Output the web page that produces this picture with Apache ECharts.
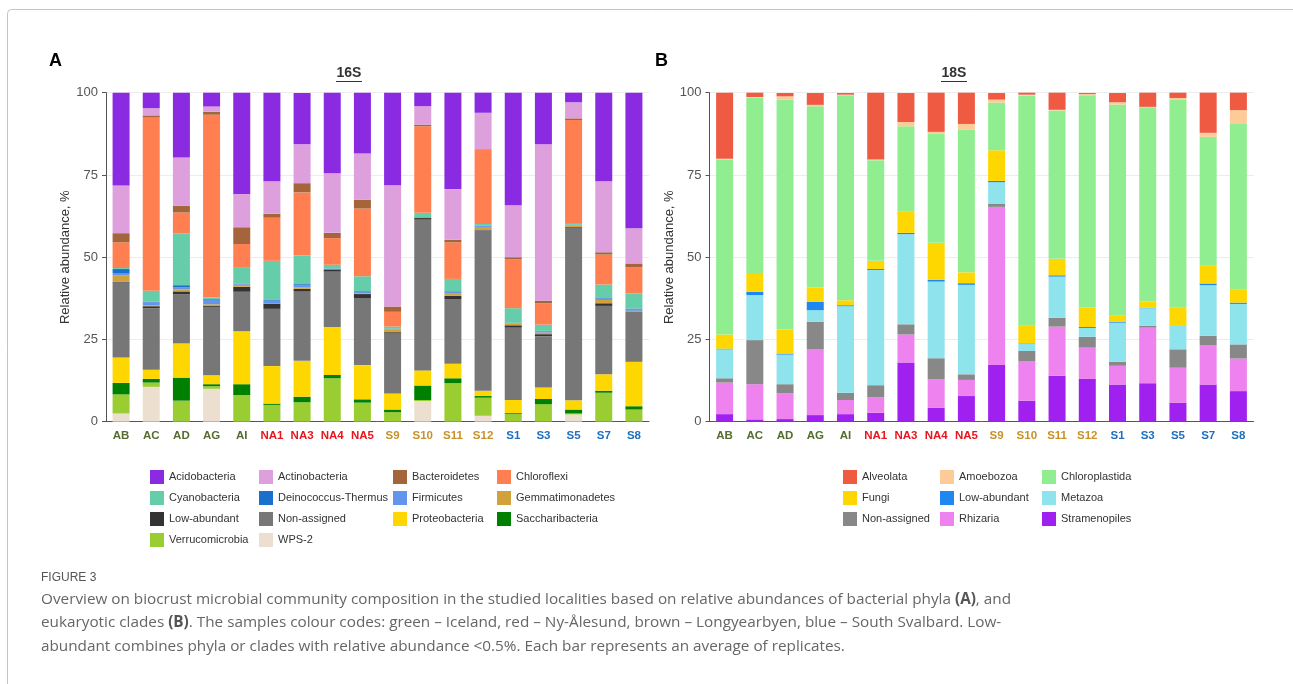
<!DOCTYPE html>
<html><head><meta charset="utf-8">
<script src="https://cdn.jsdelivr.net/npm/echarts@6/dist/echarts.min.js"></script>
<style>html,body{margin:0;padding:0;background:#fff}#c{width:1293px;height:684px}</style>
</head><body><div id="c"></div><script>
// ---- data ----
const samples = ['AB','AC','AD','AG','AI','NA1','NA3','NA4','NA5','S9','S10','S11','S12','S1','S3','S5','S7','S8'];
const yTicks = [0, 25, 50, 75, 100];

// 16S bacterial phyla (%)
const wps2            = [2.5,10.6,0,10.0,0,0,0,0,0,0,6.3,0,1.8,0,0,2.2,0,0];
const verrucomicrobia = [5.8,1.3,6.4,0.8,8.1,5.1,5.9,13.2,5.8,2.9,0.3,11.7,5.5,2.3,5.3,0.3,8.8,3.7];
const saccharibacteria= [3.5,1.1,7.0,0.6,3.3,0.4,1.7,1.0,1.0,0.8,4.4,1.5,0.5,0.3,1.6,1.2,0.6,1.0];
const proteobacteria  = [7.7,2.8,10.4,2.7,16.1,11.4,10.9,14.6,10.4,4.9,4.6,4.4,1.6,4.0,3.5,2.8,5.0,13.5];
const nonAssigned16   = [22.8,18.7,14.9,20.8,12.0,17.4,21.2,16.8,20.3,18.2,45.8,19.7,48.8,22.0,15.6,52.5,20.8,14.9];
const lowAbundant16   = [0.2,0.6,0.9,0.4,1.5,1.6,0.7,0.7,1.3,0.4,0.5,1.0,0.2,0.7,0.6,0.2,0.8,0.2];
const gemmatimonadetes= [1.9,0.2,0.6,0.4,0.6,0.1,0.4,0.1,0.2,0.8,0.1,0.8,0.8,0.6,0.5,0.5,1.0,0.4];
const firmicutes      = [0.8,1.0,0.7,1.4,0.2,0.8,0.7,0.1,0.5,0.2,0.1,0.5,0.3,0.1,0.4,0.1,0.5,0.6];
const deinococcus     = [1.2,0.2,0.6,0.2,0.1,0.2,0.3,0.1,0.2,0.1,0.1,0.1,0.1,0.1,0.1,0.1,0.1,0.1];
const cyanobacteria   = [0.3,3.3,15.7,0.5,5.1,11.9,8.7,1.1,4.5,0.6,1.3,3.7,0.5,4.4,1.9,0.5,4.1,4.6];
const chloroflexi     = [7.8,52.8,6.4,55.5,7.0,13.1,19.2,8.1,20.6,4.5,26.3,11.1,22.5,14.9,6.5,31.3,9.1,7.9];
const bacteroidetes   = [2.8,0.5,2.0,0.9,5.1,1.2,2.8,1.6,2.7,1.6,0.5,0.8,0.2,0.6,0.8,0.5,0.7,1.2];
const actinobacteria  = [14.5,2.2,14.7,1.6,10.1,9.9,11.8,18.1,14.0,36.9,5.6,15.4,11.1,15.8,47.5,4.9,21.6,10.7];
const acidobacteria   = [28.3,4.9,19.7,4.3,31.1,27.2,15.6,24.7,18.9,28.4,4.5,29.4,6.3,34.4,15.7,3.2,27.1,41.4];

// 18S eukaryotic clades (%)
const stramenopiles   = [2.3,0.7,0.8,2.0,2.3,2.7,18.0,4.3,7.8,17.2,6.4,14.0,13.0,11.3,11.7,5.8,11.3,9.3];
const rhizaria        = [9.6,10.7,7.8,20.1,4.3,4.7,8.5,8.6,4.9,48.1,11.9,14.9,9.5,5.7,16.9,10.6,12.0,9.9];
const nonAssigned18   = [1.3,13.4,2.8,8.3,2.2,3.7,3.1,6.4,1.7,1.0,3.2,2.7,3.3,1.2,0.6,5.6,2.8,4.3];
const metazoa         = [8.8,13.7,9.0,3.5,26.3,35.0,27.4,23.3,27.2,6.5,2.3,12.5,2.7,11.9,5.3,7.1,15.4,12.3];
const lowAbundant18   = [0.2,1.0,0.3,2.5,0.3,0.3,0.4,0.5,0.5,0.4,0.1,0.4,0.3,0.3,0.1,0.1,0.5,0.4];
const fungi           = [4.3,5.4,7.3,4.4,1.5,2.5,6.4,11.3,3.3,9.3,5.3,5.0,5.8,1.8,2.0,5.6,5.6,3.9];
const chloroplastida  = [53.2,53.6,69.9,55.1,62.1,30.6,26.0,33.2,43.3,14.5,69.9,45.1,64.6,64.2,59.0,63.1,39.0,50.4];
const amoebozoa       = [0.2,0.2,1.0,0.4,0.4,0.2,1.3,0.5,1.8,0.9,0.3,0.2,0.4,0.7,0.1,0.5,1.2,4.2];
const alveolata       = [20.1,1.3,1.0,3.6,0.5,20.3,8.8,11.9,9.5,2.0,0.7,5.3,0.3,2.8,4.6,1.7,12.2,5.5];

// ---- styling ----
const FONT = 'Liberation Sans, Arial, sans-serif';
function sampleColor(v){
  if (/^NA/.test(v)) return '#e8141e';
  if (/^S(9|10|11|12)$/.test(v)) return '#c8912a';
  if (/^S/.test(v)) return '#1f6fbf';
  return '#556b2f';
}
// bottom -> top
const series16 = [
  ['WPS-2', wps2, '#ecdfcf'],
  ['Verrucomicrobia', verrucomicrobia, '#9acd32'],
  ['Saccharibacteria', saccharibacteria, '#008000'],
  ['Proteobacteria', proteobacteria, '#ffd700'],
  ['Non-assigned', nonAssigned16, '#777777'],
  ['Low-abundant', lowAbundant16, '#333333'],
  ['Gemmatimonadetes', gemmatimonadetes, '#d1a23c'],
  ['Firmicutes', firmicutes, '#6495ed'],
  ['Deinococcus-Thermus', deinococcus, '#1a6fcf'],
  ['Cyanobacteria', cyanobacteria, '#66cdaa'],
  ['Chloroflexi', chloroflexi, '#ff7f50'],
  ['Bacteroidetes', bacteroidetes, '#a5653a'],
  ['Actinobacteria', actinobacteria, '#dda0dd'],
  ['Acidobacteria', acidobacteria, '#8a2be2']
];
const series18 = [
  ['Stramenopiles', stramenopiles, '#a020f0'],
  ['Rhizaria', rhizaria, '#ee82ee'],
  ['Non-assigned ', nonAssigned18, '#888888'],
  ['Metazoa', metazoa, '#8ee3ec'],
  ['Low-abundant ', lowAbundant18, '#1e88f0'],
  ['Fungi', fungi, '#ffd700'],
  ['Chloroplastida', chloroplastida, '#90ee90'],
  ['Amoebozoa', amoebozoa, '#fdcb98'],
  ['Alveolata', alveolata, '#ee5a42']
];

const series = [];
series16.forEach(([n,d,c]) => series.push({name:n,type:'bar',stack:'A',xAxisIndex:0,yAxisIndex:0,data:d,barWidth:17,itemStyle:{color:c},emphasis:{disabled:true}}));
series18.forEach(([n,d,c]) => series.push({name:n,type:'bar',stack:'B',xAxisIndex:1,yAxisIndex:1,data:d,barWidth:17,itemStyle:{color:c},emphasis:{disabled:true}}));

function xAx(gi){
  return {type:'category',gridIndex:gi,data:samples,
    axisLine:{lineStyle:{color:'#555',width:1}},
    axisTick:{alignWithLabel:true,interval:0,length:5,lineStyle:{color:'#555'}},
    axisLabel:{interval:0,fontFamily:FONT,fontSize:11.5,fontWeight:'bold',margin:8,color:(v)=>sampleColor(v)}};
}
function yAx(gi){
  return {type:'value',gridIndex:gi,min:yTicks[0],max:yTicks[yTicks.length-1],interval:25,
    name:'Relative abundance, %',nameLocation:'middle',nameGap:34,
    nameTextStyle:{fontFamily:FONT,fontSize:13,color:'#333'},
    axisLine:{show:true,lineStyle:{color:'#555'}},
    axisTick:{show:true,length:4,lineStyle:{color:'#555'}},
    axisLabel:{fontFamily:FONT,fontSize:13,color:'#555',margin:8},
    splitLine:{lineStyle:{color:'#ececec'}}};
}
function legendCol(names,left){
  return {orient:'vertical',left:left,top:470,padding:0,itemGap:7,itemWidth:14,itemHeight:14,icon:'rect',
    selectedMode:false,data:names,formatter:(n)=>n.trim(),
    textStyle:{fontFamily:FONT,fontSize:11,color:'#333'}};
}

const chart = echarts.init(document.getElementById('c'));
chart.setOption({
  animation:false,
  backgroundColor:'#fff',
  grid:[{left:106,top:92.7,width:543,height:329},{left:709.5,top:92.7,width:544,height:329}],
  xAxis:[xAx(0),xAx(1)],
  yAxis:[yAx(0),yAx(1)],
  legend:[
    legendCol(['Acidobacteria','Cyanobacteria','Low-abundant','Verrucomicrobia'],150),
    legendCol(['Actinobacteria','Deinococcus-Thermus','Non-assigned','WPS-2'],259),
    legendCol(['Bacteroidetes','Firmicutes','Proteobacteria'],393),
    legendCol(['Chloroflexi','Gemmatimonadetes','Saccharibacteria'],497),
    legendCol(['Alveolata','Fungi','Non-assigned '],843),
    legendCol(['Amoebozoa','Low-abundant ','Rhizaria'],940),
    legendCol(['Chloroplastida','Metazoa','Stramenopiles'],1042)
  ],
  series:series,
  graphic:[
    {type:'rect',shape:{x:7.5,y:9.5,width:1300,height:700,r:4},style:{fill:null,stroke:'#c4c4c4',lineWidth:1},silent:true,z:-1},
    {type:'text',left:49,top:52,style:{text:'A',font:'bold 18px '+FONT,fill:'#000'}},
    {type:'text',left:655,top:52,style:{text:'B',font:'bold 18px '+FONT,fill:'#000'}},
    {type:'text',x:349,y:73,style:{text:'16S',font:'bold 14px '+FONT,fill:'#333',align:'center',verticalAlign:'middle'}},
    {type:'line',shape:{x1:336,y1:81.5,x2:362,y2:81.5},style:{stroke:'#333',lineWidth:1}},
    {type:'text',x:954,y:73,style:{text:'18S',font:'bold 14px '+FONT,fill:'#333',align:'center',verticalAlign:'middle'}},
    {type:'line',shape:{x1:941,y1:81.5,x2:967,y2:81.5},style:{stroke:'#333',lineWidth:1}},
    {type:'text',left:41,top:572,style:{text:'FIGURE 3',font:'12px '+FONT,fill:'#555'}},
    {type:'text',left:41,top:592,style:{
      text:'{n|Overview on biocrust microbial community composition in the studied localities based on relative abundances of bacterial phyla }{b|(A)}{n|, and}\n'+
           '{n|eukaryotic clades }{b|(B)}{n|. The samples colour codes: green – Iceland, red – Ny-Ålesund, brown – Longyearbyen, blue – South Svalbard. Low-}\n'+
           '{n|abundant combines phyla or clades with relative abundance <0.5%. Each bar represents an average of replicates.}',
      fill:'#666',
      rich:{n:{fontFamily:'Open Sans, sans-serif',fontSize:15.3,fill:'#666',lineHeight:23.5},
            b:{fontFamily:'Open Sans, sans-serif',fontSize:15.3,fontWeight:'bold',fill:'#555',lineHeight:23.5}}}}
  ]
});
</script></body></html>
